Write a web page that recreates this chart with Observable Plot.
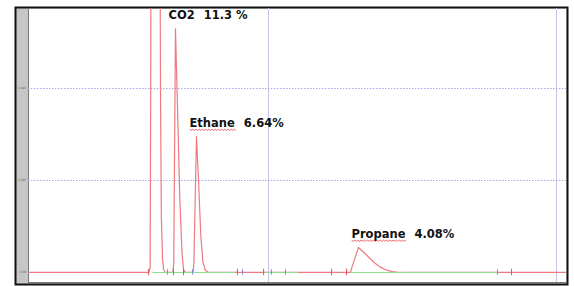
<!DOCTYPE html>
<html>
<head>
<meta charset="utf-8">
<script src="https://cdn.jsdelivr.net/npm/d3@7"></script>
<script src="https://cdn.jsdelivr.net/npm/@observablehq/plot@0.6"></script>
<style>
  html, body { margin: 0; padding: 0; background: #fff; }
</style>
</head>
<body>
<div id="chart"></div>
<script>
// Retention time (min) and detector signal (scaled units) of the chromatogram trace
const traceTime = [0.167, 0.585, 0.589, 0.591, 0.593, 0.622, 0.625, 0.628, 0.632, 0.636, 0.642,
  0.668, 0.671, 0.677, 0.684, 0.692, 0.700, 0.705, 0.712,
  0.738, 0.741, 0.750, 0.757, 0.765, 0.772, 0.780, 0.790,
  1.285, 1.289, 1.3125, 1.33, 1.35, 1.37, 1.39, 1.41, 1.43, 1.46, 2.035];
const traceSignal = [0.0, 0.0, 0.05, 2.0, 5.0, 5.0, 2.0, 0.6, 0.15, 0.03, 0.0,
  0.0, 0.1, 2.65, 1.8, 0.8, 0.2, 0.03, 0.0,
  0.0, 0.1, 1.478, 1.0, 0.4, 0.12, 0.03, 0.0,
  0.0, 0.05, 0.272, 0.22, 0.16, 0.10, 0.055, 0.025, 0.01, 0.0, 0.0];

// Integrated peaks
const peakNames = ["CO2", "Ethane", "Propane"];
const peakPercents = ["11.3 %", "6.64%", "4.08%"];
const peakTimes = [0.677, 0.750, 1.3125];
const peakHeights = [2.65, 1.478, 0.272];
const spellFlagged = [false, true, true];

// Integration baseline segments (start, end)
const baseStart = [0.597, 0.986, 1.285];
const baseEnd = [0.885, 1.104, 1.795];

// Event markers
const redMarks = [0.583, 0.670, 0.705, 0.892, 0.983, 1.219, 1.271, 1.844];
const blueMarks = [0.649, 0.736, 0.910, 1.010, 1.059, 1.795];

// Axis ticks
const yTicks = [0, 1, 2];
const yTickLabels = ["0.00", "2.0e5", "4.0e5"];
const xGrid = [1, 2];

const trace = traceTime.map((t, i) => ({t, v: traceSignal[i]}));
const peaks = peakNames.map((name, i) => ({name, pct: peakPercents[i], t: peakTimes[i], v: peakHeights[i], flag: spellFlagged[i]}));
const segs = baseStart.map((s, i) => ({s, e: baseEnd[i]}));

const plot = Plot.plot({
  width: 574,
  height: 286,
  marginLeft: 28,
  marginRight: 8,
  marginTop: 8,
  marginBottom: 4,
  x: {domain: [0.1667, 2.0347], axis: null},
  y: {domain: [-0.109, 2.87], axis: null},
  style: {background: "#fff", fontFamily: "DejaVu Sans"},
  marks: [
    Plot.frame({fill: "#c6c6c6", stroke: "#111", strokeWidth: 2, insetLeft: -13, insetTop: -1, insetRight: -1, insetBottom: -2}),
    Plot.frame({fill: "#fff", stroke: "#777", strokeWidth: 1}),
    Plot.ruleX(xGrid, {stroke: "#c4c4f0", strokeWidth: 1}),
    Plot.ruleY(yTicks.slice(1), {stroke: "#a8a8ea", strokeDasharray: "1.5,1.5", strokeWidth: 1}),
    Plot.axisY(yTicks, {tickSize: 0, tickPadding: 2, fontSize: 3, fill: "#666", label: null, tickFormat: (d, i) => yTickLabels[i]}),
    Plot.line(trace, {x: "t", y: "v", stroke: "#ee7a82", strokeWidth: 1.2, clip: true}),
    Plot.link(segs, {x1: "s", x2: "e", y1: 0, y2: 0, stroke: "#8ee08e", strokeWidth: 1}),
    Plot.ruleX(redMarks, {y1: -0.035, y2: 0.035, stroke: "#e0505a", strokeWidth: 1}),
    Plot.ruleX(blueMarks, {y1: -0.03, y2: 0.03, stroke: "#7a8ad8", strokeWidth: 1}),
    Plot.text(peaks, {x: "t", y: "v", text: d => d.name + "|" + d.pct + "|" + (d.flag ? 1 : 0), textAnchor: "start", dx: -7, dy: -13,
      fontSize: 11.5, fontWeight: "bold", fill: "#111"})
  ]
});

document.getElementById("chart").append(plot);

d3.select(plot).selectAll("g[aria-label=text] text").each(function() {
  const [name, pct, flag] = this.textContent.split("|");
  const el = d3.select(this);
  el.text(null);
  const nm = el.append("tspan").text(name);
  el.append("tspan").attr("dx", 9).text(pct);
  if (flag === "1") {
    const n = nm.node();
    const first = n.getExtentOfChar(0);
    const last = n.getExtentOfChar(name.length - 1);
    const x0 = first.x, x1 = last.x + last.width;
    const y0 = first.y + first.height - 1;
    let p = `M${x0},${y0}`;
    for (let x = x0, k = 0; x < x1; x += 1.6, k++) {
      p += `L${x + 1.6},${y0 + (k % 2 ? 0 : 1.2)}`;
    }
    const path = d3.select(this.parentNode).append("path")
      .attr("d", p).attr("fill", "none").attr("stroke", "#e04040").attr("stroke-width", 0.8);
    const tr = this.getAttribute("transform");
    if (tr) path.attr("transform", tr);
  }
});
</script>
</body>
</html>
